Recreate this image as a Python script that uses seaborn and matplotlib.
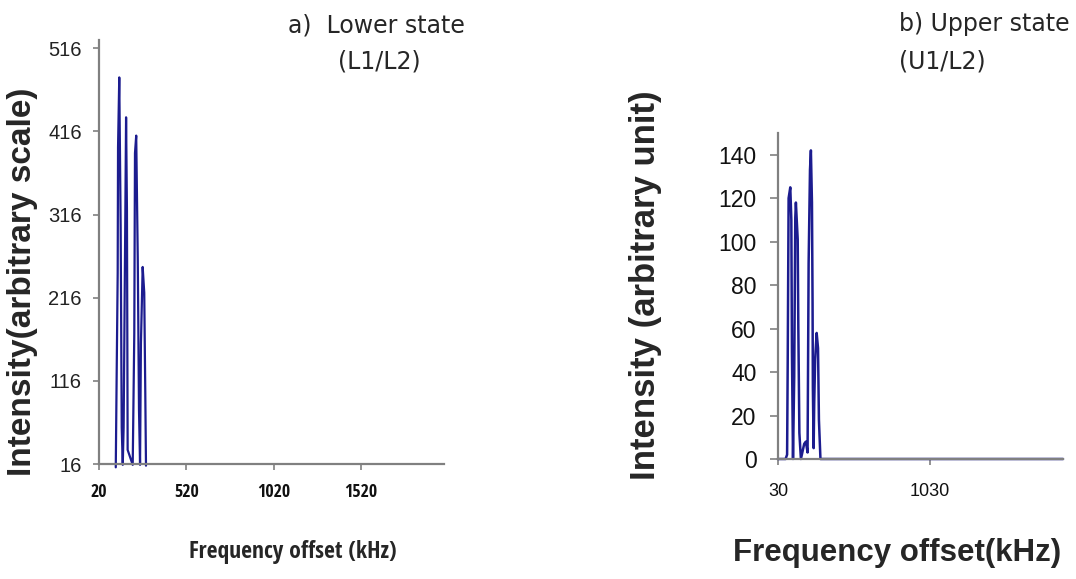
import matplotlib
matplotlib.use("Agg")
import matplotlib.pyplot as plt
import seaborn as sns
import pandas as pd

# ---- data ----
lower_freq = [116, 121, 127, 129, 136, 144, 150, 156,
              161, 169, 175, 180, 184, 213,
              222, 226, 233, 242, 249, 255,
              260, 270, 279, 285, 289]
lower_intensity = [12, 121, 246, 397, 481, 301, 60, 15,
                   60, 270, 433, 321, 33, 15,
                   173, 390, 411, 261, 81, 15,
                   161, 253, 222, 101, 14]
lower_yticks = [16, 116, 216, 316, 416, 516]
lower_xticks = [20, 520, 1020, 1520]

upper_freq = [30, 80, 90, 94, 100, 111, 118, 122, 129,
              137, 144, 148, 160, 164, 171, 181,
              203, 214, 225, 232, 241, 247, 254, 258, 260, 265,
              269, 275, 285, 294, 300, 310, 1910]
upper_intensity = [0, 0, 2, 44, 120, 125, 110, 49, 0,
                   38, 111, 118, 101, 61, 12, 0,
                   7, 8, 3, 90, 133, 142, 118, 72, 33, 5,
                   26, 46, 58, 51, 18, 0, 0]
upper_yticks = [0, 20, 40, 60, 80, 100, 120, 140]
upper_xticks = [30, 1030]

sns.set_style("white")
W, H = 1076, 579
fig = plt.figure(figsize=(W / 100, H / 100), dpi=100)

LINE = "#1c1c8f"
GRAY = "#808080"
ARIAL = ["Liberation Sans", "DejaVu Sans"]
COND = ["Open Sans Condensed", "Liberation Sans", "DejaVu Sans"]
TITLEF = ["DejaVu Sans"]


def px_axes(x0, y0, x1, y1):
    return fig.add_axes([x0 / W, 1 - y1 / H, (x1 - x0) / W, (y1 - y0) / H])


def style(ax):
    sns.despine(ax=ax)
    for s in ("left", "bottom"):
        ax.spines[s].set_color(GRAY)
        ax.spines[s].set_linewidth(1.6)
    ax.tick_params(direction="out", colors=GRAY, width=1.2, length=4.5,
                   left=True, bottom=True)
    ax.grid(False)


# ---- left panel ----
ax1 = px_axes(99, 40, 444, 464)
df1 = pd.DataFrame({"f": lower_freq, "i": lower_intensity})
sns.lineplot(data=df1, x="f", y="i", ax=ax1, color=LINE, linewidth=1.6,
             sort=False, estimator=None)
for ln in ax1.lines:
    ln.set_clip_on(False)
ax1.set_xlim(20, 1995)
ax1.set_ylim(16, 526)
ax1.set_xticks(lower_xticks)
ax1.set_yticks(lower_yticks)
style(ax1)
ax1.tick_params(axis="y", pad=8, labelcolor="#222222")
ax1.tick_params(axis="x", pad=9, labelcolor="#111111")
for t in ax1.get_yticklabels():
    t.set_fontfamily(ARIAL)
    t.set_fontsize(14.5)
for t in ax1.get_xticklabels():
    t.set_fontfamily(COND)
    t.set_fontsize(13)
    t.set_fontweight("bold")
ax1.set_xlabel("")
ax1.set_ylabel("")

# ---- right panel ----
ax2 = px_axes(778, 133, 1063, 459)
df2 = pd.DataFrame({"f": upper_freq, "i": upper_intensity})
sns.lineplot(data=df2, x="f", y="i", ax=ax2, color=LINE, linewidth=1.8,
             sort=False, estimator=None)
for ln in ax2.lines:
    ln.set_clip_on(False)
ax2.set_xlim(30, 1910)
ax2.set_ylim(0, 150)
ax2.set_xticks(upper_xticks)
ax2.set_yticks(upper_yticks)
style(ax2)
ax2.tick_params(axis="y", pad=10, labelcolor="#111111", length=5.5)
ax2.tick_params(axis="x", pad=13, labelcolor="#111111")
for t in ax2.get_yticklabels():
    t.set_fontfamily(ARIAL)
    t.set_fontsize(16.5)
for t in ax2.get_xticklabels():
    t.set_fontfamily(ARIAL)
    t.set_fontsize(13)
ax2.set_xlabel("")
ax2.set_ylabel("")

# ---- labels ----
def ftext(x, y, s, **kw):
    fig.text(x / W, 1 - y / H, s, **kw)

ftext(23, 282, "Intensity(arbitrary scale)", rotation=90, ha="center", va="center",
      fontsize=24, fontweight="bold", family=ARIAL)
ftext(645, 285, "Intensity (arbitrary unit)", rotation=90, ha="center", va="center",
      fontsize=25, fontweight="bold", family=ARIAL)
ftext(293, 552, "Frequency offset (kHz)", ha="center", va="center",
      fontsize=17, fontweight="bold", family=COND)
ftext(897, 553, "Frequency offset(kHz)", ha="center", va="center",
      fontsize=22.5, fontweight="bold", family=ARIAL)

ftext(288, 32, "a)  Lower state", ha="left", va="baseline", fontsize=17, family=TITLEF)
ftext(338, 69, "(L1/L2)", ha="left", va="baseline", fontsize=17, family=TITLEF)
ftext(899, 31, "b) Upper state", ha="left", va="baseline", fontsize=17, family=TITLEF)
ftext(899, 68, "(U1/L2)", ha="left", va="baseline", fontsize=17, family=TITLEF)

fig.savefig("out.png", dpi=100)
